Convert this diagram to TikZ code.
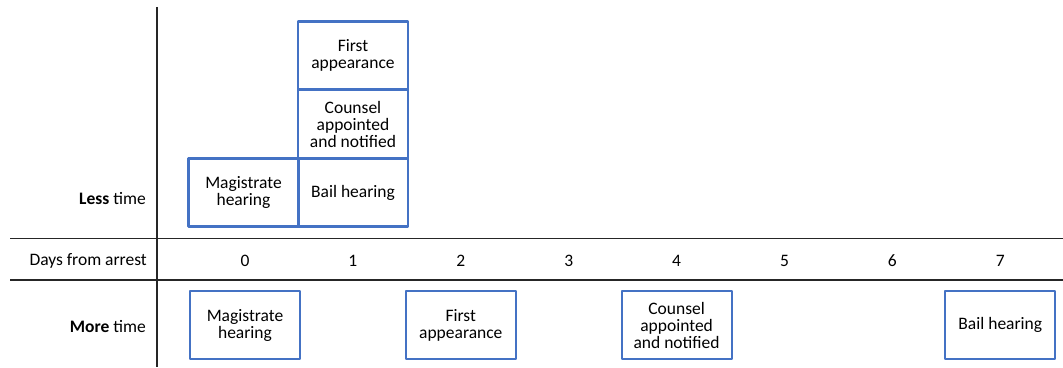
\documentclass[tikz,border=0pt]{standalone}
\usepackage{fontspec}
\setmainfont{Carlito}
\definecolor{boxblue}{HTML}{4472C4}
\begin{document}
\begin{tikzpicture}[x=1pt, y=1pt, declare function={dx(\i)=245+107.9*\i;},
  line join=round, font=\fontsize{17.5}{17}\selectfont,
  evbox/.style={draw=boxblue, line width=2.2pt, minimum width=110pt, minimum height=68pt, align=center, inner sep=0pt},
  rowlab/.style={anchor=east, inner sep=0pt}]
  \useasboundingbox (0,0) rectangle (1063,367);
  % axes
  \coordinate (vtop) at (157,360);
  \coordinate (vbot) at (157,0);
  \draw[line width=1.5pt, black!85] (vtop) -- (vbot);
  \draw[line width=1.5pt, black!85] (10,128.5) -- (1063,128.5) (10,87) -- (1063,87);
  % row labels
  \node[rowlab] (less) at (146,168) {\textbf{Less} time};
  \node[rowlab] (days) at (147,106) {Days from arrest};
  \node[rowlab] (more) at (146,40) {\textbf{More} time};
  \foreach \i in {0,...,7}
    \node (d\i) at ({dx(\i)},106) {\i};
  % less time
  \node[evbox] (lmag) at (243.5,174.5) {Magistrate\\hearing};
  \node[evbox] (lbail) at (353,174.5) {Bail hearing};
  \node[evbox] (lcoun) at (353,243) {Counsel\\appointed\\and notified};
  \node[evbox] (lfirst) at (353,311.5) {First\\appearance};
  % more time
  \node[evbox] (mmag) at ({dx(0)},42) {Magistrate\\hearing};
  \node[evbox] (mfirst) at ({dx(2)},42) {First\\appearance};
  \node[evbox] (mcoun) at ({dx(4)},42) {Counsel\\appointed\\and notified};
  \node[evbox] (mbail) at ({dx(7)},42) {Bail hearing};
\end{tikzpicture}
\end{document}
